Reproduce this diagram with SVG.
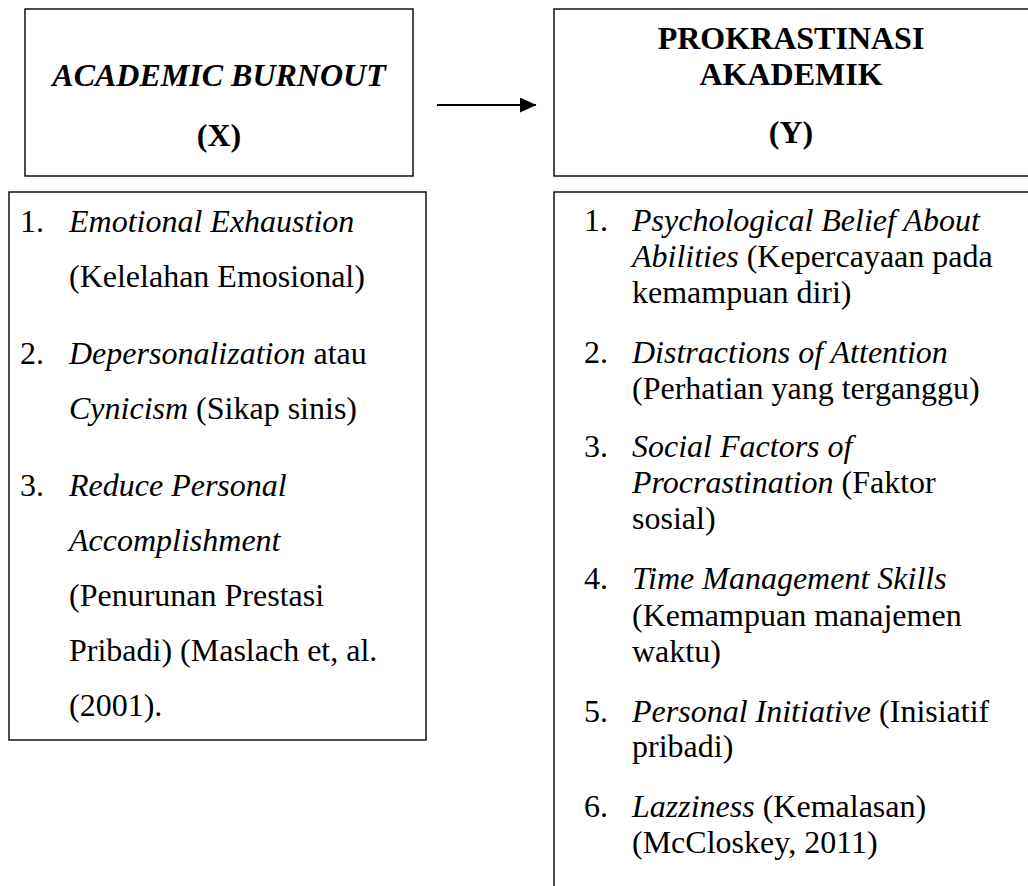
<svg xmlns="http://www.w3.org/2000/svg" width="1028" height="886" viewBox="0 0 1028 886">
<defs>
<style>
.box{fill:#fff;stroke:#000;stroke-width:1.4}
text{font-family:"Liberation Serif","Times New Roman",serif;font-size:32px;fill:#000}
.h{font-weight:bold;text-anchor:middle}
.i{font-style:italic}
</style>
<marker id="ah" markerWidth="17" markerHeight="15" refX="16" refY="7.5" orient="auto" markerUnits="userSpaceOnUse" viewBox="0 0 17 15">
<path d="M0,0 L16.5,7.5 L0,15 Z" fill="#000"/>
</marker>
</defs>
<rect width="1028" height="886" fill="#fff"/>
<g id="connectors">
<line x1="437" y1="105" x2="536" y2="105" stroke="#000" stroke-width="1.8" marker-end="url(#ah)"/>
</g>
<g id="node-x">
<rect class="box" x="25" y="9" width="388" height="167"/>
<text class="h i" x="219" y="86">ACADEMIC BURNOUT</text>
<text class="h" x="219" y="146">(X)</text>
</g>
<g id="node-y">
<rect class="box" x="554" y="9" width="490" height="167"/>
<text class="h" x="791" y="48.5">PROKRASTINASI</text>
<text class="h" x="791" y="84.5">AKADEMIK</text>
<text class="h" x="791" y="143">(Y)</text>
</g>
<g id="list-x">
<rect class="box" x="9" y="192" width="417" height="548"/>
<text x="20" y="231.7">1.</text>
<text x="69" y="231.7" class="i">Emotional Exhaustion</text>
<text x="69" y="286.7">(Kelelahan Emosional)</text>
<text x="20" y="363.5">2.</text>
<text x="69" y="363.5"><tspan class="i">Depersonalization</tspan> atau</text>
<text x="69" y="418.5"><tspan class="i">Cynicism</tspan> (Sikap sinis)</text>
<text x="20" y="495.5">3.</text>
<text x="69" y="495.5" class="i">Reduce Personal</text>
<text x="69" y="550.5" class="i">Accomplishment</text>
<text x="69" y="605.5">(Penurunan Prestasi</text>
<text x="69" y="660.5">Pribadi) (Maslach et, al.</text>
<text x="69" y="715.5">(2001).</text>
</g>
<g id="list-y">
<rect class="box" x="554" y="192" width="490" height="710"/>
<text x="584" y="230.5">1.</text>
<text x="632" y="230.5" class="i">Psychological Belief About</text>
<text x="632" y="267.3"><tspan class="i">Abilities</tspan> (Kepercayaan pada</text>
<text x="632" y="303.3">kemampuan diri)</text>
<text x="584" y="363.3">2.</text>
<text x="632" y="363.3" class="i">Distractions of Attention</text>
<text x="632" y="399.3">(Perhatian yang terganggu)</text>
<text x="584" y="457.3">3.</text>
<text x="632" y="457.3" class="i">Social Factors of</text>
<text x="632" y="493.3"><tspan class="i">Procrastination</tspan> (Faktor</text>
<text x="632" y="529.3">sosial)</text>
<text x="584" y="589.3">4.</text>
<text x="632" y="589.3" class="i">Time Management Skills</text>
<text x="632" y="626">(Kemampuan manajemen</text>
<text x="632" y="661.7">waktu)</text>
<text x="584" y="721.7">5.</text>
<text x="632" y="721.7"><tspan class="i">Personal Initiative</tspan> (Inisiatif</text>
<text x="632" y="756.7">pribadi)</text>
<text x="584" y="816.7">6.</text>
<text x="632" y="816.7"><tspan class="i">Lazziness</tspan> (Kemalasan)</text>
<text x="632" y="852.7">(McCloskey, 2011)</text>
</g>
</svg>
